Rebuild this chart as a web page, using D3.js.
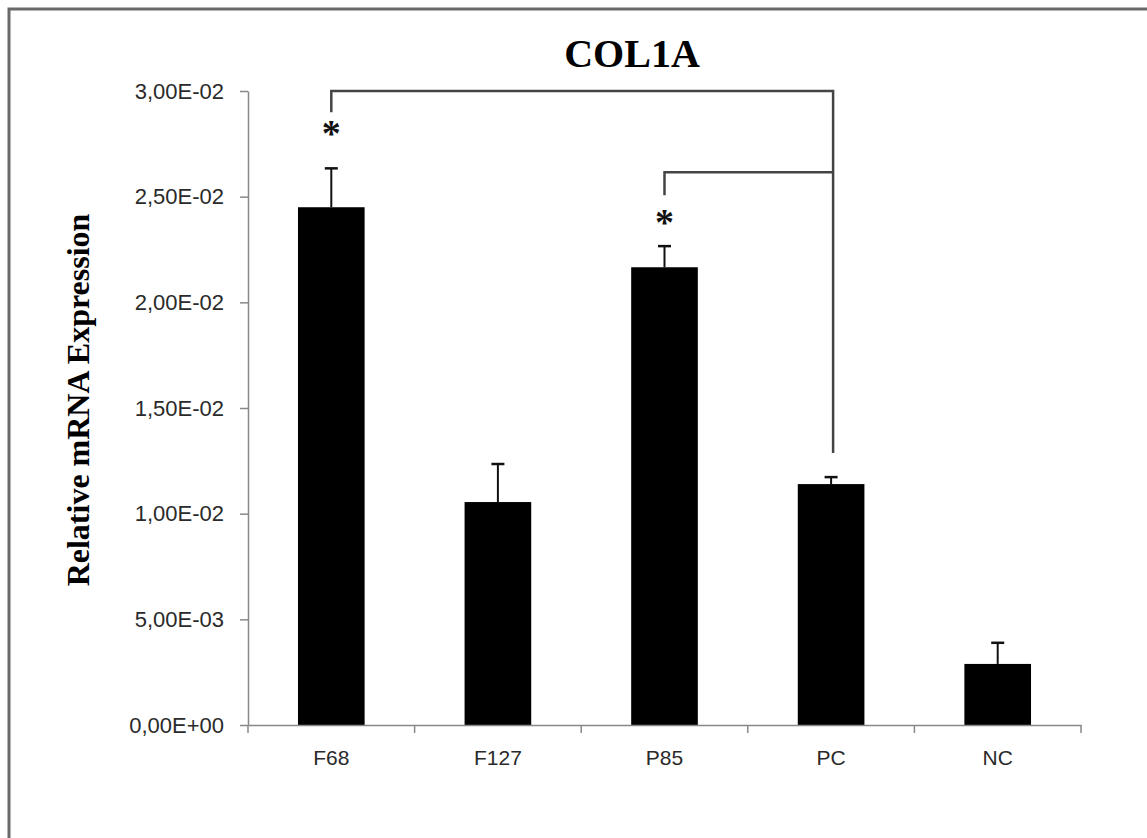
<!DOCTYPE html>
<html>
<head>
<meta charset="utf-8">
<script src="https://cdn.jsdelivr.net/npm/d3@7"></script>
<style>
  body { margin: 0; background: #fff; overflow: hidden; }
  svg { display: block; }
</style>
</head>
<body>
<div id="chart"></div>
<script>
const categories = ["F68", "F127", "P85", "PC", "NC"]
const values = [0.0245, 0.01055, 0.02166, 0.0114, 0.00289]
const errors = [0.00184, 0.0018, 0.001, 0.00033, 0.001]
const yTicks = [0, 0.005, 0.01, 0.015, 0.02, 0.025, 0.03]
const yTickLabels = ["0,00E+00", "5,00E-03", "1,00E-02", "1,50E-02", "2,00E-02", "2,50E-02", "3,00E-02"]

// significance brackets (compared against PC)
const bracketFrom = ["F68", "P85"]
const bracketLevel = [0.0300, 0.02616]
const bracketDrop = [0.0290, 0.02507]
const bracketTo = "PC"
const bracketToDrop = 0.01287
const starCats = ["F68", "P85"]
const starVals = [0.02824, 0.02403]

const W = 1147, H = 838

const svg = d3.select("#chart")
    .append("svg")
    .attr("width", W)
    .attr("height", H)

// outer frame (right and bottom edges fall outside the picture)
svg.append("rect")
    .attr("x", 9).attr("y", 9)
    .attr("width", 1200).attr("height", 900)
    .attr("fill", "none")
    .attr("stroke", "#6a6a6a")
    .attr("stroke-width", 3)

const x = d3.scaleBand()
    .domain(categories)
    .range([248, 1081])
    .paddingInner(0.6)
    .paddingOuter(0.3)

const y = d3.scaleLinear()
    .domain([0, 0.03])
    .range([725, 91])

// bars
svg.selectAll("rect.bar")
    .data(categories)
    .enter().append("rect")
    .attr("class", "bar")
    .attr("x", d => x(d))
    .attr("y", (d, i) => y(values[i]))
    .attr("width", x.bandwidth())
    .attr("height", (d, i) => y(0) - y(values[i]))
    .attr("fill", "#000")

// error bars (upper only)
const cx = d => x(d) + x.bandwidth() / 2
svg.selectAll("line.err")
    .data(categories)
    .enter().append("line")
    .attr("x1", cx).attr("x2", cx)
    .attr("y1", (d, i) => y(values[i]))
    .attr("y2", (d, i) => y(values[i] + errors[i]))
    .attr("stroke", "#111")
    .attr("stroke-width", 2)
svg.selectAll("line.cap")
    .data(categories)
    .enter().append("line")
    .attr("x1", d => cx(d) - 6.5).attr("x2", d => cx(d) + 6.5)
    .attr("y1", (d, i) => y(values[i] + errors[i]))
    .attr("y2", (d, i) => y(values[i] + errors[i]))
    .attr("stroke", "#111")
    .attr("stroke-width", 2.5)

// y axis
const yAxis = d3.axisLeft(y)
    .tickValues(yTicks)
    .tickFormat((d, i) => yTickLabels[i])
    .tickSize(8)
    .tickSizeOuter(0)
    .tickPadding(16)

const gy = svg.append("g")
    .attr("transform", "translate(248,0)")
    .call(yAxis)
gy.select(".domain").attr("stroke", "#888").attr("stroke-width", 1.5)
gy.selectAll(".tick line").attr("stroke", "#888").attr("stroke-width", 1.5)
gy.selectAll(".tick text")
    .attr("font-family", "Liberation Sans, Arial, sans-serif")
    .attr("font-size", 22)
    .attr("fill", "#2a2a2a")

// x axis
const xAxis = d3.axisBottom(x)
    .tickSize(0)
    .tickSizeOuter(0)
    .tickPadding(25)

const gx = svg.append("g")
    .attr("transform", "translate(0,725)")
    .call(xAxis)
gx.select(".domain").attr("stroke", "#888").attr("stroke-width", 1.5)
gx.selectAll(".tick text")
    .attr("font-family", "Liberation Sans, Arial, sans-serif")
    .attr("font-size", 21)
    .attr("fill", "#2a2a2a")

// category boundary ticks
const bounds = categories.map(d => x(d) - x.step() * x.paddingInner() / 2)
bounds[0] = x.range()[0]
bounds.push(x.range()[1])
gx.selectAll("line.bound")
    .data(bounds)
    .enter().append("line")
    .attr("x1", d => d).attr("x2", d => d)
    .attr("y1", 0).attr("y2", 8)
    .attr("stroke", "#888")
    .attr("stroke-width", 1.5)

// brackets
const toX = cx(bracketTo) + 2
bracketFrom.forEach((c, i) => {
    const fx = cx(c)
    let p = `M${fx},${y(bracketDrop[i])}V${y(bracketLevel[i])}H${toX}`
    if (i === 0) p += `V${y(bracketToDrop)}`
    svg.append("path")
        .attr("d", p)
        .attr("fill", "none")
        .attr("stroke", "#444")
        .attr("stroke-width", 2.5)
})

// stars
const starSize = 38
svg.selectAll("text.star")
    .data(starCats)
    .enter().append("text")
    .attr("x", d => cx(d))
    .attr("y", (d, i) => y(starVals[i]) + 0.47 * starSize)
    .attr("text-anchor", "middle")
    .attr("font-family", "Liberation Serif, Times New Roman, serif")
    .attr("font-weight", "bold")
    .attr("font-size", starSize)
    .attr("fill", "#111")
    .text("*")

// title
svg.append("text")
    .attr("x", 632).attr("y", 67)
    .attr("text-anchor", "middle")
    .attr("font-family", "Liberation Serif, Times New Roman, serif")
    .attr("font-weight", "bold")
    .attr("font-size", 40)
    .attr("fill", "#000")
    .text("COL1A")

// y axis title
svg.append("text")
    .attr("transform", "translate(89,400) rotate(-90)")
    .attr("text-anchor", "middle")
    .attr("font-family", "Liberation Serif, Times New Roman, serif")
    .attr("font-weight", "bold")
    .attr("font-size", 32)
    .attr("fill", "#000")
    .text("Relative mRNA Expression")
</script>
</body>
</html>
